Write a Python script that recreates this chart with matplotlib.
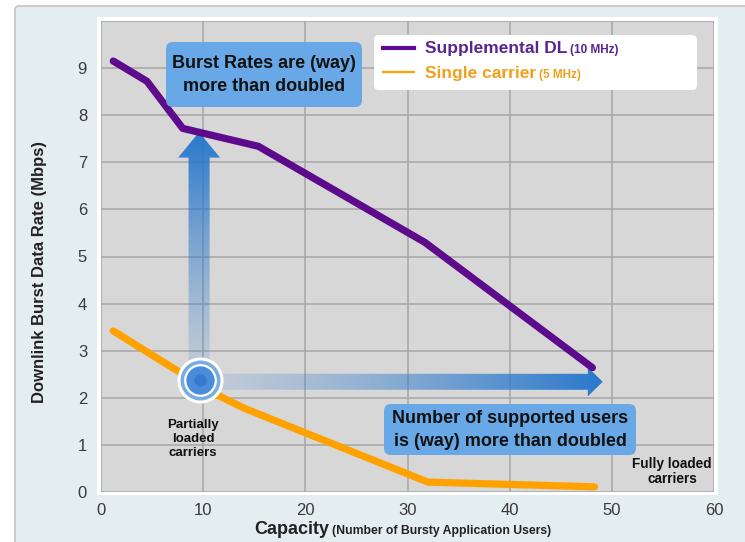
import numpy as np
import matplotlib
matplotlib.use("Agg")
import matplotlib.pyplot as plt
import matplotlib.transforms as mtransforms
from matplotlib.patches import Polygon, FancyBboxPatch, Rectangle
from matplotlib.lines import Line2D

# ---------------- data ----------------
sdl_users = [1.2, 4.5, 8.0, 15.4, 31.7, 48.1]
sdl_rate = [9.15, 8.72, 7.72, 7.34, 5.30, 2.64]

single_users = [1.2, 11.0, 14.0, 32.0, 48.3]
single_rate = [3.42, 2.10, 1.78, 0.21, 0.11]

x_ticks = [0, 10, 20, 30, 40, 50, 60]
y_ticks = [0, 1, 2, 3, 4, 5, 6, 7, 8, 9]
#-------------------------------------------------------------

plt.rcParams['font.family'] = ['Liberation Sans', 'DejaVu Sans']

W, H = 745, 542
fig = plt.figure(figsize=(W / 100, H / 100), dpi=100)
fig.patch.set_facecolor('white')

# pixel coords of the picture (y down) -> figure
px = mtransforms.Affine2D().scale(1 / W, -1 / H).translate(0, 1) + fig.transFigure

# outer panel and white frame round the plot (behind the axes)
fig.add_artist(FancyBboxPatch((15, 6), 740, 545, boxstyle="round,pad=0,rounding_size=4",
                              transform=px, facecolor='#e4edef', edgecolor='#c4c4c4', lw=1.2,
                              zorder=-3))
fig.add_artist(Rectangle((97, 17), 621, 478, transform=px, facecolor='white', edgecolor='none',
                         zorder=-2))

ax = fig.add_axes([101 / W, 1 - 492 / H, (714 - 101) / W, (492 - 21) / H])
ax.set_facecolor('#d7d7d7')
for s in ax.spines.values():
    s.set_visible(False)

ax.set_xlim(0, 60)
ax.set_ylim(0, 10)
ax.set_xticks(x_ticks)
ax.set_yticks(y_ticks)
ax.set_yticks(range(0, 11), minor=True)
ax.grid(True, which='both', color='#a6a6a6', lw=1.1)
ax.set_axisbelow(True)
ax.tick_params(which='both', length=0, labelsize=12, labelcolor='#3a3a3a')
ax.tick_params(axis='x', pad=8)
ax.tick_params(axis='y', pad=10)

# gradient arrows
blue = np.array([0.16, 0.47, 0.80])


def grad_arrow(verts, extent, vertical):
    poly = Polygon(verts, closed=True, facecolor='none', edgecolor='none')
    ax.add_patch(poly)
    ramp = np.linspace(0, 1, 256)
    alpha = 0.12 + 0.88 * ramp ** 1.3
    if vertical:
        img = np.zeros((256, 2, 4))
        img[:, :, :3] = blue
        img[:, :, 3] = alpha[:, None]
    else:
        img = np.zeros((2, 256, 4))
        img[:, :, :3] = blue
        img[:, :, 3] = alpha[None, :]
    im = ax.imshow(img, extent=extent, origin='lower', aspect='auto', zorder=2.5,
                   interpolation='bilinear')
    im.set_clip_path(poly)


cx, cy = 9.65, 2.38
# vertical arrow
vx, sw, hw, base, tip = 9.6, 1.03, 2.05, 7.1, 7.64
grad_arrow([(vx - sw, cy), (vx + sw, cy), (vx + sw, base), (vx + hw, base), (vx, tip),
            (vx - hw, base), (vx - sw, base)], (vx - hw, vx + hw, cy, tip), True)
# horizontal arrow
hy, sh, hh, hbase, htip = 2.34, 0.17, 0.31, 47.65, 49.1
grad_arrow([(cx, hy - sh), (hbase, hy - sh), (hbase, hy - hh), (htip, hy), (hbase, hy + hh),
            (hbase, hy + sh), (cx, hy + sh)], (cx, htip, hy - hh, hy + hh), False)
ax.set_xlim(0, 60)
ax.set_ylim(0, 10)

# series
ax.plot(sdl_users, sdl_rate, color='#5d0a8c', lw=5.2, solid_capstyle='round',
        solid_joinstyle='round', zorder=3)
ax.plot(single_users, single_rate, color='#ffa200', lw=5.2, solid_capstyle='round',
        solid_joinstyle='round', zorder=3)

# the "partially loaded" bubble
ax.plot([cx], [cy], 'o', ms=31, mfc='#78ade4', mec='white', mew=2.2, zorder=4)
ax.plot([cx], [cy], 'o', ms=22, mfc='#4a8cda', mec='white', mew=1.6, zorder=4)
ax.plot([cx], [cy], 'o', ms=9, mfc='#2a6fc6', mec='none', alpha=0.6, zorder=4)

# call-out boxes (pixel placed) and their texts
for (bx, by, bw, bh) in [(166, 42, 196, 65), (384, 404, 252, 51)]:
    fig.add_artist(FancyBboxPatch((bx, by), bw, bh, boxstyle="round,pad=0,rounding_size=7",
                                  transform=px, facecolor='#69a8e6', edgecolor='none', zorder=5))
fig.text(264, 75, "Burst Rates are (way)\nmore than doubled", transform=px, ha='center',
         va='center', fontsize=13, fontweight='bold', color='#111111', linespacing=1.45,
         zorder=6)
fig.text(510, 430, "Number of supported users\nis (way) more than doubled", transform=px,
         ha='center', va='center', fontsize=13, fontweight='bold', color='#111111',
         linespacing=1.4, zorder=6)

ax.text(9.0, 1.12, "Partially\nloaded\ncarriers", ha='center', va='center', fontsize=9.5,
        fontweight='bold', color='#111111', linespacing=1.22, zorder=5)
ax.text(55.9, 0.43, "Fully loaded\ncarriers", ha='center', va='center', fontsize=9.8,
        fontweight='bold', color='#111111', linespacing=1.1, zorder=5)

# legend drawn by hand
fig.add_artist(FancyBboxPatch((374, 35), 323, 55, boxstyle="round,pad=0,rounding_size=5",
                              transform=px, facecolor='white', edgecolor='none', zorder=6))
fig.add_artist(Line2D([383, 414], [48, 48], transform=px, color='#5d0a8c', lw=3, zorder=7))
fig.add_artist(Line2D([383, 414], [72, 72], transform=px, color='#ffa200', lw=1.6, zorder=7))

renderer = fig.canvas.get_renderer()


def two_part(x, y, big, small, color, bsize, ssize, center=False):
    t1 = fig.text(x, y, big, transform=px, color=color, fontsize=bsize, fontweight='bold',
                  va='baseline', zorder=7)
    t2 = fig.text(x, y, small, transform=px, color=color, fontsize=ssize, fontweight='bold',
                  va='baseline', zorder=7)
    w1 = t1.get_window_extent(renderer).width
    w2 = t2.get_window_extent(renderer).width
    if center:
        x0 = x - (w1 + 3 + w2) / 2
        t1.set_x(x0)
    else:
        x0 = x
    t2.set_x(x0 + w1 + 3)


two_part(425, 53, "Supplemental DL", "(10 MHz)", '#5b2490', 12.5, 8.5)
two_part(425, 78, "Single carrier", "(5 MHz)", '#f0a01a', 12.5, 8.5)

# axis titles
fig.text(40, 272, "Downlink Burst Data Rate (Mbps)", transform=px, rotation=90, ha='center',
         va='center', fontsize=12, fontweight='bold', color='#222222')
two_part(403, 534, "Capacity", "(Number of Bursty Application Users)", '#222222', 13, 8.8,
         center=True)

fig.savefig("out.png", dpi=100)
